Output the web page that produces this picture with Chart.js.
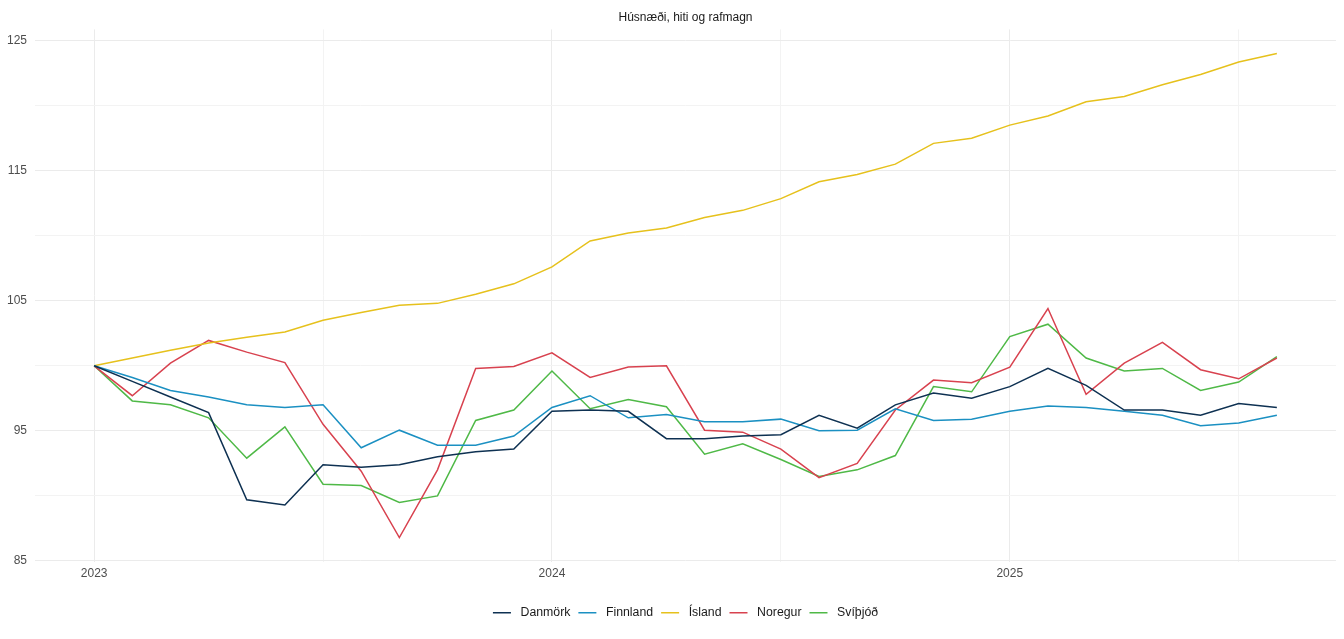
<!DOCTYPE html>
<html>
<head>
<meta charset="utf-8">
<script src="https://cdn.jsdelivr.net/npm/chart.js@4/dist/chart.umd.min.js"></script>
<style>
  html, body { margin: 0; padding: 0; background: #fff; }
  #wrap { width: 1344px; height: 639px; }
</style>
</head>
<body>
<div id="wrap"><canvas id="myChart" width="1344" height="639"></canvas></div>
<script>
// manuðir jan 2023 - ágú 2025
const months = ['2023-01','2023-02','2023-03','2023-04','2023-05','2023-06','2023-07','2023-08','2023-09','2023-10','2023-11','2023-12',
                '2024-01','2024-02','2024-03','2024-04','2024-05','2024-06','2024-07','2024-08','2024-09','2024-10','2024-11','2024-12',
                '2025-01','2025-02','2025-03','2025-04','2025-05','2025-06','2025-07','2025-08']
const yearTicks = { 0: '2023', 12: '2024', 24: '2025' }
const yTicks = [85, 90, 95, 100, 105, 110, 115, 120, 125]
const yLabels = [85, 95, 105, 115, 125]

const danmork  = [100, 98.8, 97.6, 96.4, 89.7, 89.3, 92.4, 92.2, 92.4, 93.0, 93.4, 93.6,
                  96.5, 96.6, 96.5, 94.4, 94.4, 94.6, 94.7, 96.2, 95.2, 97.0, 97.9, 97.5,
                  98.4, 99.8, 98.5, 96.6, 96.6, 96.2, 97.1, 96.8]
const finnland = [100, 99.1, 98.1, 97.6, 97.0, 96.8, 97.0, 93.7, 95.05, 93.9, 93.9, 94.6,
                  96.8, 97.7, 96.0, 96.25, 95.7, 95.7, 95.9, 95.0, 95.05, 96.7, 95.8, 95.9,
                  96.5, 96.9, 96.8, 96.5, 96.2, 95.4, 95.6, 96.2]
const island   = [100, 100.6, 101.2, 101.75, 102.2, 102.6, 103.5, 104.1, 104.65, 104.8, 105.5, 106.3,
                  107.6, 109.6, 110.2, 110.6, 111.4, 111.95, 112.85, 114.15, 114.7, 115.5, 117.1, 117.5,
                  118.5, 119.2, 120.3, 120.7, 121.6, 122.4, 123.35, 124.0]
const noregur  = [100, 97.7, 100.2, 101.95, 101.05, 100.25, 95.5, 91.9, 86.8, 92.0, 99.8, 99.95,
                  101.0, 99.1, 99.9, 100.0, 95.05, 94.9, 93.6, 91.4, 92.5, 96.6, 98.9, 98.7,
                  99.9, 104.4, 97.8, 100.2, 101.8, 99.7, 99.0, 100.6]
const svithjod = [100, 97.3, 97.0, 96.0, 92.9, 95.3, 90.9, 90.8, 89.5, 90.0, 95.8, 96.6,
                  99.6, 96.7, 97.4, 96.85, 93.2, 94.0, 92.8, 91.5, 92.0, 93.1, 98.4, 98.0,
                  102.25, 103.2, 100.6, 99.6, 99.8, 98.1, 98.75, 100.7]

const seriesNames = ['Danmörk', 'Finnland', 'Ísland', 'Noregur', 'Svíþjóð']
const seriesValues = [danmork, finnland, island, noregur, svithjod]
const seriesColors = ['#0e3152', '#1b90c2', '#e6c11c', '#d8424f', '#4fb947']

const toPoints = (values) => values.map((v, i) => ({ x: i, y: v }))

const datasets = seriesNames.map((name, k) => ({
    label: name,
    data: toPoints(seriesValues[k]),
    borderColor: seriesColors[k],
    backgroundColor: seriesColors[k],
    borderWidth: 1.5,
    pointRadius: 0,
    tension: 0,
    fill: false
}))

const n = months.length - 1
const xPad = n * 0.05
const allVals = seriesValues.flat()
const yMinData = Math.min(...allVals)
const yMaxData = Math.max(...allVals)
const yPad = (yMaxData - yMinData) * 0.05

Chart.defaults.font.family = "'Liberation Sans', Arial, sans-serif"

const config = {
    type: 'line',
    data: { datasets: datasets },
    options: {
        responsive: false,
        animation: false,
        layout: { padding: { left: 0, right: 8, top: 0, bottom: 10 } },
        plugins: {
            title: {
                display: true,
                fullSize: false,
                text: 'Húsnæði, hiti og rafmagn',
                color: '#1a1a1a',
                font: { size: 12, weight: 'normal' },
                padding: { top: 10, bottom: 5 }
            },
            legend: {
                position: 'bottom',
                fullSize: false,
                labels: {
                    usePointStyle: true,
                    pointStyle: 'line',
                    pointStyleWidth: 18,
                    color: '#1a1a1a',
                    font: { size: 12.3 },
                    padding: 8,
                    generateLabels: (chart) => {
                        const items = Chart.defaults.plugins.legend.labels.generateLabels(chart)
                        items.forEach(it => { it.text = ' ' + it.text })
                        return items
                    }
                }
            },
            tooltip: { enabled: false }
        },
        scales: {
            x: {
                type: 'linear',
                min: -xPad,
                max: n + xPad,
                afterBuildTicks: (scale) => {
                    scale.ticks = [0, 6, 12, 18, 24, 30].map(v => ({ value: v }))
                },
                afterFit: (scale) => { scale.height = 37 },
                grid: {
                    drawTicks: false,
                    color: (ctx) => (ctx.tick && ctx.tick.value % 12 === 0) ? '#ebebeb' : '#f3f3f3'
                },
                border: { display: false },
                ticks: {
                    padding: 5,
                    color: '#4d4d4d',
                    font: { size: 12 },
                    maxRotation: 0,
                    autoSkip: false,
                    callback: (v) => yearTicks[v] || ''
                }
            },
            y: {
                min: yMinData - yPad,
                max: yMaxData + yPad,
                afterBuildTicks: (scale) => {
                    scale.ticks = yTicks.map(v => ({ value: v }))
                },
                afterFit: (scale) => { scale.width = 35 },
                grid: {
                    drawTicks: false,
                    color: (ctx) => (ctx.tick && yLabels.includes(ctx.tick.value)) ? '#ebebeb' : '#f3f3f3'
                },
                border: { display: false },
                ticks: {
                    padding: 8,
                    color: '#4d4d4d',
                    font: { size: 12 },
                    autoSkip: false,
                    callback: (v) => yLabels.includes(v) ? String(v) : ''
                }
            }
        }
    }
}

const chart = new Chart(document.getElementById('myChart'), config)
</script>
</body>
</html>
